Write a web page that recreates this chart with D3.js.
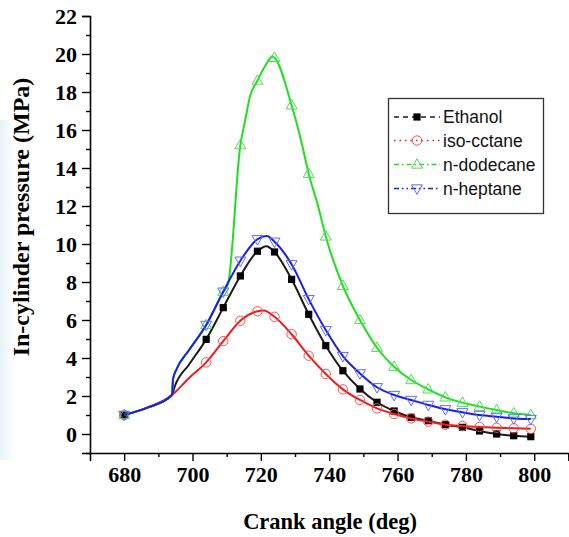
<!DOCTYPE html>
<html>
<head>
<meta charset="utf-8">
<script src="https://cdn.jsdelivr.net/npm/d3@7/dist/d3.min.js"></script>
<style>
  html, body { margin: 0; padding: 0; background: #fff; }
  svg { display: block; }
</style>
</head>
<body>
<svg id="chart" width="569" height="537"></svg>
<script>
// Crank angles (deg) where the symbols sit
const markerAngles = [680, 704, 709, 714, 719, 724, 729, 734, 739, 744, 749, 754, 759, 764, 769, 774, 779, 784, 789, 794, 799];

// In-cylinder pressure (MPa) at the symbol angles
const ethanolPressure   = [1.0, 4.98, 6.65, 8.32, 9.62, 9.58, 8.14, 6.30, 4.65, 3.33, 2.37, 1.67, 1.21, 0.88, 0.70, 0.49, 0.35, 0.16, 0.0, -0.09, -0.14];
const isooctanePressure = [1.0, 3.77, 4.89, 5.96, 6.46, 6.17, 5.25, 4.12, 3.16, 2.35, 1.79, 1.35, 1.05, 0.82, 0.65, 0.49, 0.42, 0.37, 0.33, 0.30, 0.27];
const dodecanePressure  = [1.0, 5.74, 7.49, 15.2, 18.6, 19.8, 17.3, 13.7, 10.4, 7.8, 6.0, 4.54, 3.54, 2.84, 2.35, 1.93, 1.65, 1.44, 1.26, 1.09, 1.0];
const heptanePressure   = [1.0, 5.74, 7.49, 9.12, 10.25, 10.12, 8.93, 7.1, 5.47, 4.1, 3.19, 2.46, 2.05, 1.79, 1.53, 1.30, 1.14, 1.0, 0.91, 0.82, 0.79];

// Additional curve points between symbols (compression stroke and peaks)
const compressionAngles   = [687, 694];
const compressionPressure = [1.40, 2.05];
const ethanolCurveAngles     = [694.8, 699, 721.6];
const ethanolCurvePressure   = [2.5, 3.66, 9.88];
const isooctaneCurveAngles   = [699, 720.8];
const isooctanePressureCurve = [2.95, 6.5];
const dodecaneCurveAngles    = [694.3, 695.3, 699, 710.4, 715.4, 716.8, 721.7, 723.3, 731.5, 736.8];
const dodecaneCurvePressure  = [2.9, 3.4, 4.42, 7.9, 16.5, 17.75, 19.5, 19.87, 15.65, 11.96];
const heptaneCurveAngles     = [694.3, 695.3, 699, 721.7];
const heptaneCurvePressure   = [2.9, 3.4, 4.42, 10.42];

const seriesNames = ["Ethanol", "iso-cctane", "n-dodecane", "n-heptane"];

// Axis ticks
const xMajorTicks = [680, 700, 720, 740, 760, 780, 800];
const xMinorTicks = [690, 710, 730, 750, 770, 790, 810];
const yMajorTicks = [0, 2, 4, 6, 8, 10, 12, 14, 16, 18, 20, 22];
const yMinorTicks = [-1, 1, 3, 5, 7, 9, 11, 13, 15, 17, 19, 21];

const svg = d3.select("#chart");
const x = d3.scaleLinear().domain([670, 810]).range([90, 568.4]);
const y = d3.scaleLinear().domain([-1, 22]).range([453, 16]);

// faint tint along the left margin
const tint = svg.append("defs").append("linearGradient").attr("id", "tint")
  .attr("x1", 0).attr("x2", 1).attr("y1", 0).attr("y2", 0);
tint.append("stop").attr("offset", 0).attr("stop-color", "#e6f4fa");
tint.append("stop").attr("offset", 1).attr("stop-color", "#ffffff");
svg.append("rect").attr("x", 0).attr("y", 120).attr("width", 14).attr("height", 340)
  .attr("fill", "url(#tint)");

function build(angles, values, extraA, extraV) {
  const pts = angles.map((a, i) => ({a, v: values[i]}));
  compressionAngles.forEach((a, i) => pts.push({a, v: compressionPressure[i]}));
  extraA.forEach((a, i) => pts.push({a, v: extraV[i]}));
  return pts.sort((p, q) => p.a - q.a);
}

const series = [
  {name: seriesNames[0], vals: ethanolPressure, curve: build(markerAngles, ethanolPressure, ethanolCurveAngles, ethanolCurvePressure),
   line: "#1b1b1b", mark: "#000", sym: "square", dash: "5,4"},
  {name: seriesNames[1], vals: isooctanePressure, curve: build(markerAngles, isooctanePressure, isooctaneCurveAngles, isooctanePressureCurve),
   line: "#ec1c1c", mark: "#ff4c4c", sym: "circle", dash: "1.5,4"},
  {name: seriesNames[2], vals: dodecanePressure, curve: build(markerAngles, dodecanePressure, dodecaneCurveAngles, dodecaneCurvePressure),
   line: "#1fe01f", mark: "#50dc50", sym: "up", dash: "5,3,1.5,3"},
  {name: seriesNames[3], vals: heptanePressure, curve: build(markerAngles, heptanePressure, heptaneCurveAngles, heptaneCurvePressure),
   line: "#1c1cf2", mark: "#5a70f0", sym: "down", dash: "5,3,1.5,3,1.5,3"}
];

const lineGen = d3.line().x(d => x(d.a)).y(d => y(d.v)).curve(d3.curveMonotoneX);

function drawMarker(g, s, cx, cy) {
  if (s.sym === "square") {
    g.append("rect").attr("x", cx - 3.6).attr("y", cy - 3.6).attr("width", 7.2).attr("height", 7.2)
      .attr("fill", s.mark);
  } else if (s.sym === "circle") {
    g.append("circle").attr("cx", cx).attr("cy", cy).attr("r", 4.7)
      .attr("fill", "none").attr("stroke", s.mark).attr("stroke-width", 1);
  } else {
    const rot = s.sym === "down" ? 180 : 0;
    g.append("path").attr("d", d3.symbol(d3.symbolTriangle, 52)())
      .attr("transform", `translate(${cx},${cy + (s.sym === "down" ? -0.5 : 0.5)}) rotate(${rot})`)
      .attr("fill", "none").attr("stroke", s.mark).attr("stroke-width", 1);
  }
}

const plot = svg.append("g");
series.forEach(s => {
  plot.append("path").datum(s.curve).attr("d", lineGen)
    .attr("fill", "none").attr("stroke", s.line).attr("stroke-width", 2);
  const g = plot.append("g");
  markerAngles.forEach((a, i) => drawMarker(g, s, x(a), y(s.vals[i])));
});

// Axes
const serif = "'Liberation Serif', 'Times New Roman', serif";
const xAxis = svg.append("g").attr("transform", `translate(0,${y(-1)})`)
  .call(d3.axisBottom(x).tickValues(xMajorTicks).tickSize(8).tickPadding(5).tickFormat(d3.format("d")));
svg.append("g").attr("transform", `translate(0,${y(-1)})`)
  .call(d3.axisBottom(x).tickValues(xMinorTicks).tickSize(4).tickFormat(""))
  .select(".domain").remove();
const yAxis = svg.append("g").attr("transform", `translate(${x(670)},0)`)
  .call(d3.axisLeft(y).tickValues(yMajorTicks).tickSize(8).tickPadding(5).tickFormat(d3.format("d")));
svg.append("g").attr("transform", `translate(${x(670)},0)`)
  .call(d3.axisLeft(y).tickValues(yMinorTicks).tickSize(4).tickFormat(""))
  .select(".domain").remove();

svg.selectAll(".domain").attr("stroke", "#000").attr("stroke-width", 1.6);
svg.selectAll(".tick line").attr("stroke", "#000").attr("stroke-width", 1.4);
xAxis.selectAll("text").attr("font-family", serif).attr("font-weight", "bold")
  .attr("font-size", 22).attr("fill", "#000");
yAxis.selectAll("text").attr("font-family", serif).attr("font-weight", "bold")
  .attr("font-size", 22).attr("fill", "#000");

// Axis titles
svg.append("text").attr("x", 330).attr("y", 529).attr("text-anchor", "middle")
  .attr("font-family", serif).attr("font-weight", "bold").attr("font-size", 22.5)
  .text("Crank angle (deg)");
svg.append("text").attr("transform", "translate(29,217) rotate(-90)").attr("text-anchor", "middle")
  .attr("font-family", serif).attr("font-weight", "bold").attr("font-size", 24)
  .text("In-cylinder pressure (MPa)");

// Legend
const legend = svg.append("g");
legend.append("rect").attr("x", 388.5).attr("y", 98.5).attr("width", 155).attr("height", 115)
  .attr("fill", "#fff").attr("stroke", "#333").attr("stroke-width", 1.3);
const rowY = [117, 140.5, 164.5, 188.5];
series.forEach((s, i) => {
  const gy = rowY[i];
  legend.append("line").attr("x1", 394).attr("x2", 440).attr("y1", gy).attr("y2", gy)
    .attr("stroke", s.line).attr("stroke-width", 1.6).attr("stroke-dasharray", s.dash);
  drawMarker(legend, s, 417, gy);
  legend.append("text").attr("x", 443).attr("y", gy).attr("dy", "0.36em")
    .attr("font-family", "'Liberation Sans', Arial, sans-serif").attr("font-size", 17.5)
    .attr("fill", "#111").text(s.name);
});
</script>
</body>
</html>
